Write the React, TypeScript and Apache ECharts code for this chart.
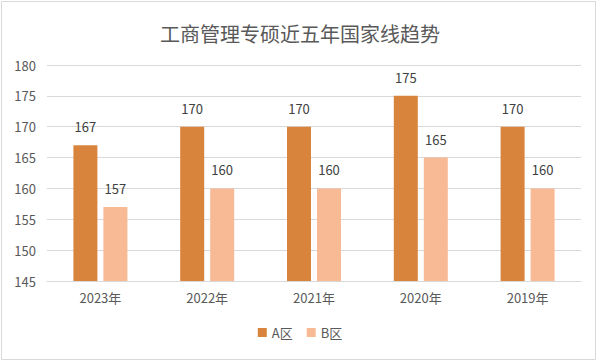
import React, { useEffect, useRef } from "react";
import * as echarts from "echarts";

const categories = ["2023年", "2022年", "2021年", "2020年", "2019年"];
const seriesA = [167, 170, 170, 175, 170];
const seriesB = [157, 160, 160, 165, 160];
const seriesNames = ["A区", "B区"];
const titleText = "工商管理专硕近五年国家线趋势";

export default function App() {
  const ref = useRef<HTMLDivElement>(null);
  useEffect(() => {
    const chart = echarts.init(ref.current!, undefined, { renderer: "svg" });
    const font = "'Noto Sans CJK SC', 'Noto Sans', sans-serif";
    const labelCfg = {
      show: true,
      position: "top" as const,
      distance: 12,
      color: "#404040",
      fontSize: 13,
      fontFamily: font,
    };
    chart.setOption({
      animation: false,
      backgroundColor: "#ffffff",
      title: {
        text: titleText,
        left: "center",
        top: 18,
        textStyle: { color: "#595959", fontSize: 20, fontWeight: "normal", fontFamily: font },
      },
      legend: {
        data: seriesNames,
        bottom: 18,
        left: "center",
        itemWidth: 9,
        itemHeight: 9,
        itemGap: 14,
        icon: "rect",
        textStyle: { color: "#595959", fontSize: 13, fontFamily: font },
      },
      grid: { left: 47, right: 19, top: 65, bottom: 81 },
      xAxis: {
        type: "category",
        data: categories,
        axisTick: { show: false },
        axisLine: { lineStyle: { color: "#d9d9d9" } },
        axisLabel: { color: "#595959", fontSize: 13, fontFamily: font, margin: 10 },
      },
      yAxis: {
        type: "value",
        min: 145,
        max: 180,
        interval: 5,
        axisLine: { show: false },
        axisTick: { show: false },
        splitLine: { lineStyle: { color: "#d9d9d9" } },
        axisLabel: { color: "#595959", fontSize: 13, fontFamily: font, margin: 11 },
      },
      series: [
        {
          name: seriesNames[0],
          type: "bar",
          data: seriesA,
          barWidth: 24,
          barGap: "25%",
          itemStyle: { color: "#D9843D" },
          label: labelCfg,
        },
        {
          name: seriesNames[1],
          type: "bar",
          data: seriesB,
          barWidth: 24,
          itemStyle: { color: "#F8B995" },
          label: labelCfg,
        },
      ],
      graphic: [
        {
          type: "rect",
          shape: { x: 1.5, y: 1.5, width: 594, height: 358 },
          style: { fill: "none", stroke: "#d9d9d9", lineWidth: 1 },
          silent: true,
        },
      ],
    });
    return () => chart.dispose();
  }, []);
  return <div ref={ref} style={{ width: 600, height: 362, position: "absolute", left: 0, top: 0 }} />;
}
